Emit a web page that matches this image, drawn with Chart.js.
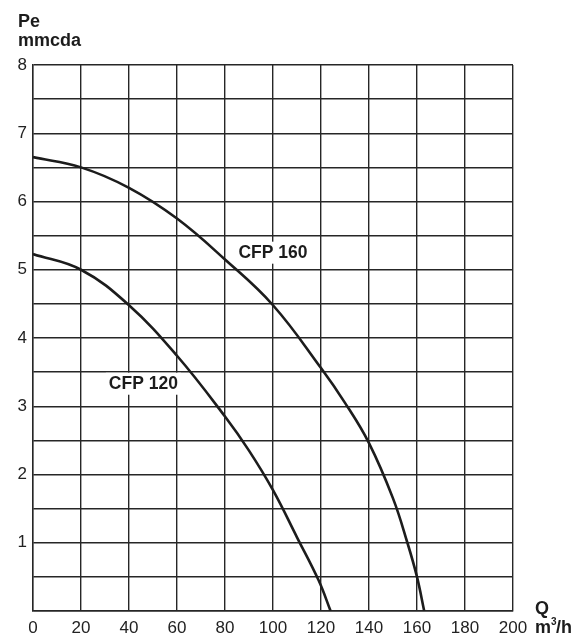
<!DOCTYPE html>
<html>
<head>
<meta charset="utf-8">
<script src="https://cdn.jsdelivr.net/npm/chart.js@4/dist/chart.umd.min.js"></script>
<style>
  body { margin: 0; background: #fff; }
  #wrap { width: 584px; height: 637px; }
</style>
</head>
<body>
<div id="wrap"><canvas id="chart" width="584" height="637"></canvas></div>
<script>
// curve readings (Q m3/h, Pe mmcda)
const q160 = [0, 20, 40, 60, 80, 100, 120, 130, 140, 150, 156, 160, 163];
const pe160 = [6.65, 6.5, 6.2, 5.75, 5.15, 4.48, 3.56, 3.05, 2.46, 1.65, 1.0, 0.5, 0];
const q120 = [0, 20, 40, 60, 80, 90, 100, 110, 119, 124];
const pe120 = [5.23, 5.0, 4.48, 3.74, 2.85, 2.35, 1.77, 1.08, 0.45, 0];
const xTicks = [0, 20, 40, 60, 80, 100, 120, 140, 160, 180, 200];
const yTicks = [1, 2, 3, 4, 5, 6, 7, 8];
// where the curve names sit (data units)
const labels = [
  { text: "CFP 160", q: 100, pe: 5.25 },
  { text: "CFP 120", q: 46, pe: 3.33 }
];

const font = "'Liberation Sans', Arial, sans-serif";
const ink = "#1c1c1c";

function pts(xs, ys) {
  return xs.map((x, i) => ({ x: x, y: ys[i] }));
}

const extras = {
  id: "extras",
  afterDatasetsDraw(chart) {
    const ctx = chart.ctx;
    const xs = chart.scales.x, ys = chart.scales.y;
    ctx.save();
    ctx.font = "bold 17.5px " + font;
    ctx.textAlign = "center";
    ctx.textBaseline = "middle";
    labels.forEach(l => {
      const px = xs.getPixelForValue(l.q), py = ys.getPixelForValue(l.pe);
      const w = ctx.measureText(l.text).width;
      ctx.fillStyle = "#fff";
      ctx.fillRect(px - w / 2 - 3, py - 11, w + 6, 22);
      ctx.fillStyle = ink;
      ctx.fillText(l.text, px, py);
    });
    ctx.font = "bold 18px " + font;
    ctx.textAlign = "left";
    ctx.textBaseline = "alphabetic";
    ctx.fillText("Pe", 18, 27);
    ctx.fillText("mmcda", 18, 46);
    ctx.fillText("Q", 535, 614);
    ctx.fillText("m", 535, 633);
    const mw = ctx.measureText("m").width;
    ctx.font = "bold 10px " + font;
    ctx.fillText("3", 535 + mw, 625);
    ctx.font = "bold 18px " + font;
    ctx.fillText("/h", 535 + mw + 5, 633);
    ctx.restore();
  }
};

new Chart(document.getElementById("chart"), {
  type: "scatter",
  data: {
    datasets: [
      { label: "CFP 160", data: pts(q160, pe160) },
      { label: "CFP 120", data: pts(q120, pe120) }
    ].map(d => Object.assign(d, {
      showLine: true,
      borderColor: ink,
      borderWidth: 2.6,
      pointRadius: 0,
      tension: 0.4,
      fill: false
    }))
  },
  options: {
    responsive: false,
    animation: false,
    layout: { padding: { top: 65, right: 71, left: 0, bottom: 0 } },
    plugins: { legend: { display: false }, tooltip: { enabled: false } },
    scales: {
      x: {
        type: "linear",
        min: 0, max: 200,
        afterFit: s => { s.height = 26; },
        afterBuildTicks: s => { s.ticks = xTicks.map(v => ({ value: v })); },
        grid: { color: "#262626", lineWidth: 1.4, drawTicks: false },
        border: { color: "#262626", width: 1.4 },
        ticks: { color: "#222", padding: 7, maxRotation: 0, font: { family: font, size: 17 } }
      },
      y: {
        type: "linear",
        min: 0, max: 8,
        afterFit: s => { s.width = 33; },
        ticks: {
          stepSize: 0.5,
          color: "#222",
          padding: 6,
          font: { family: font, size: 17 },
          callback: v => yTicks.includes(v) ? v : ""
        },
        grid: { color: "#262626", lineWidth: 1.4, drawTicks: false },
        border: { color: "#262626", width: 1.4 }
      }
    }
  },
  plugins: [extras]
});
</script>
</body>
</html>
